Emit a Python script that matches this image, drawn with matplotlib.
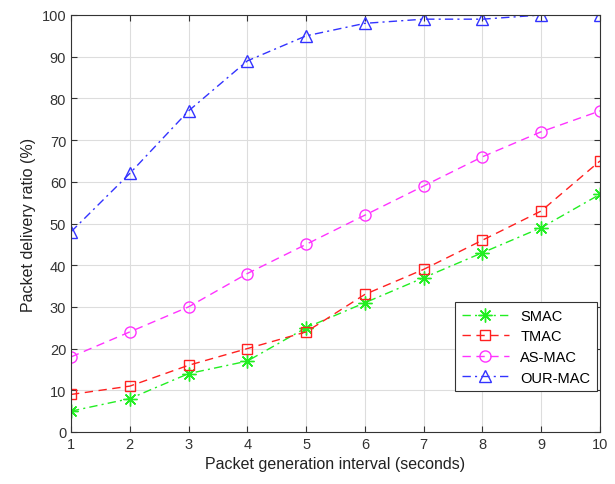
import matplotlib
matplotlib.use("Agg")
import matplotlib.pyplot as plt

x = [1, 2, 3, 4, 5, 6, 7, 8, 9, 10]
smac = [5, 8, 14, 17, 25, 31, 37, 43, 49, 57]
tmac = [9, 11, 16, 20, 24, 33, 39, 46, 53, 65]
asmac = [18, 24, 30, 38, 45, 52, 59, 66, 72, 77]
ourmac = [48, 62, 77, 89, 95, 98, 99, 99, 100, 100]

plt.rcParams['font.family'] = ['Liberation Sans', 'DejaVu Sans']

fig = plt.figure(figsize=(6.15, 4.85), dpi=100)
ax = fig.add_axes([71/615, 1 - 433/485, (600-71)/615, (433-16)/485])

lw = 1.0
ax.plot(x, smac, color='#22ee22', linestyle=(0, (6, 3, 1.5, 3)), lw=lw,
        marker=(8, 2, 0), markersize=10, markerfacecolor='none', markeredgewidth=1.0, label='SMAC')
ax.plot(x, tmac, color='#ff2020', linestyle=(0, (6, 4)), lw=lw,
        marker='s', markersize=7, markerfacecolor='none', markeredgewidth=1.0, label='TMAC')
ax.plot(x, asmac, color='#ff33ff', linestyle=(0, (6, 4)), lw=lw,
        marker='o', markersize=8, markerfacecolor='none', markeredgewidth=1.0, label='AS-MAC')
ax.plot(x, ourmac, color='#3333ff', linestyle=(0, (6, 3, 1.5, 3)), lw=lw,
        marker='^', markersize=8, markerfacecolor='none', markeredgewidth=1.0, label='OUR-MAC')

ax.set_xlim(1, 10)
ax.set_ylim(0, 100)
ax.set_xticks(range(1, 11))
ax.set_yticks(range(0, 101, 10))
ax.grid(True, color='#dddddd', linewidth=0.8)
ax.tick_params(direction='in', labelsize=10.5, colors='#333333', top=True, right=True, length=4)
for sp in ax.spines.values():
    sp.set_color('#333333')
    sp.set_linewidth(0.8)

ax.set_xlabel('Packet generation interval (seconds)', fontsize=11.5, color='#222222')
ax.set_ylabel('Packet delivery ratio (%)', fontsize=11.5, color='#222222')

leg = ax.legend(loc='lower right', bbox_to_anchor=(0.994, 0.098), fontsize=10.5,
                fancybox=False, edgecolor='#333333', framealpha=1,
                handlelength=3.2, borderpad=0.45, labelspacing=0.45, borderaxespad=0)
leg.get_frame().set_linewidth(0.8)

fig.savefig('out.png', dpi=100)
